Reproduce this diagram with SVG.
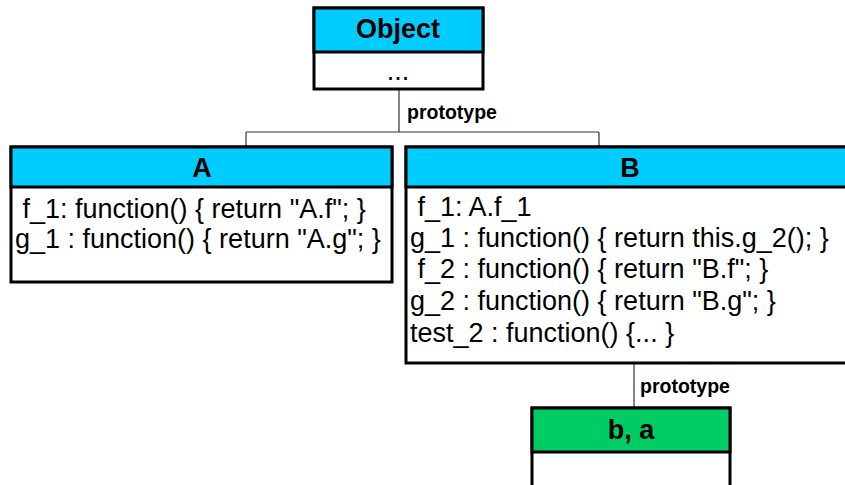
<svg xmlns="http://www.w3.org/2000/svg" width="845" height="485" viewBox="0 0 845 485">
<style>
.box{fill:#fff;stroke:#000;stroke-width:3}
.hdr{fill:#00CCFF;stroke:#000;stroke-width:3}
.hdrg{fill:#00CC66;stroke:#000;stroke-width:3}
.title{font-family:"Liberation Sans",Arial,sans-serif;font-weight:bold;font-size:27px;text-anchor:middle;fill:#000}
.body{font-family:"Liberation Sans",Arial,sans-serif;font-size:27px;fill:#000}
.lbl{font-family:"Liberation Sans",Arial,sans-serif;font-weight:bold;font-size:19.5px;fill:#000}
.conn{stroke:#333;stroke-width:1.2;fill:none}
</style>
<rect width="845" height="485" fill="#fff"/>
<g id="connectors">
<path class="conn" d="M399 89 V132 M246 132 H599 M246 132 V147 M599 132 V147"/>
<text class="lbl" x="407" y="119">prototype</text>
<path class="conn" d="M634 363 V408"/>
<text class="lbl" x="640" y="393">prototype</text>
</g>
<g id="Object">
<rect class="box" x="314" y="8" width="169" height="81"/>
<rect class="hdr" x="314" y="8" width="169" height="44"/>
<text class="title" x="398" y="38">Object</text>
<text class="body" x="398" y="80" text-anchor="middle" font-size="18">...</text>
</g>
<g id="A">
<rect class="box" x="11" y="147" width="381" height="135"/>
<rect class="hdr" x="11" y="147" width="381" height="40"/>
<text class="title" x="202" y="177">A</text>
<text class="body" x="15" y="218" xml:space="preserve"> f_1: function() { return "A.f"; }</text>
<text class="body" x="15" y="248">g_1 : function() { return "A.g"; }</text>
</g>
<g id="B">
<rect class="box" x="406" y="147" width="448" height="216"/>
<rect class="hdr" x="406" y="147" width="448" height="40"/>
<text class="title" x="630" y="177">B</text>
<text class="body" x="410" y="216" xml:space="preserve"> f_1: A.f_1</text>
<text class="body" x="410" y="247">g_1 : function() { return this.g_2(); }</text>
<text class="body" x="410" y="278" xml:space="preserve"> f_2 : function() { return "B.f"; }</text>
<text class="body" x="410" y="310">g_2 : function() { return "B.g"; }</text>
<text class="body" x="410" y="342">test_2 : function() {... }</text>
</g>
<g id="ba">
<rect class="box" x="532" y="408" width="198" height="90"/>
<rect class="hdrg" x="532" y="408" width="198" height="44"/>
<text class="title" x="631" y="439">b, a</text>
</g>
</svg>
